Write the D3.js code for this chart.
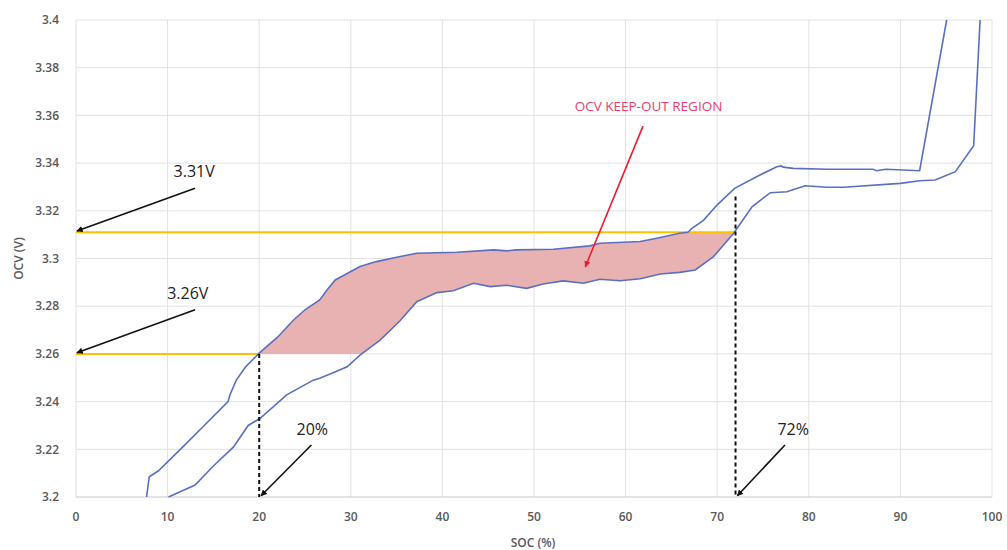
<!DOCTYPE html>
<html>
<head>
<meta charset="utf-8">
<script src="https://cdn.jsdelivr.net/npm/d3@7"></script>
<style>
  body { margin: 0; background: #fff; }
  svg { display: block; font-family: "Open Sans", sans-serif; }
  .grid line { stroke: #e2e2e2; stroke-width: 1; }
  .tick-label { fill: #595959; font-size: 12px; font-weight: 600; }
  .axis-title { fill: #595959; font-size: 12px; font-weight: 600; }
  .curve { fill: none; stroke: #5b6fc2; stroke-width: 1.6; }
  .limit { stroke: #ffc000; stroke-width: 2; }
  .marker-line { stroke: #111; stroke-width: 2; stroke-dasharray: 4 3; }
  .note { fill: #222; font-size: 16px; }
  .note-red { fill: #e8406a; font-size: 13.5px; }
</style>
</head>
<body>
<svg width="1007" height="550"></svg>
<script>
// axis ticks
let socTicks = [0, 10, 20, 30, 40, 50, 60, 70, 80, 90, 100];
let ocvTicks = [3.2, 3.22, 3.24, 3.26, 3.28, 3.3, 3.32, 3.34, 3.36, 3.38, 3.4];

// upper (left) OCV curve
let upperSoc = [7.7, 8.0, 9.0, 11.5, 14, 16.6, 16.8, 17.5, 18.5, 20.0, 22, 23.7, 25, 26.6, 27.4, 28.3, 31, 32.8, 35.4, 37.2,
    41.6, 45.6, 47, 48, 52.1, 56.1, 57.2, 61.6, 63.4, 65.9, 66.8, 67.2, 68.5, 70, 71.9, 74.3, 76.5, 77, 77.2, 78.3,
    82, 87, 87.4, 88.4, 92.1, 95.05];
let upperOcv = [3.2, 3.2085, 3.211, 3.2204, 3.230, 3.240, 3.2428, 3.249, 3.2545, 3.2603, 3.267, 3.274, 3.2785, 3.2826, 3.2868, 3.291, 3.2966, 3.2987, 3.3008, 3.3022,
    3.3026, 3.3036, 3.3032, 3.3036, 3.3039, 3.3053, 3.3064, 3.3071, 3.3085, 3.3106, 3.311, 3.3125, 3.316, 3.3225, 3.3294, 3.3343, 3.3385, 3.3388, 3.3383, 3.3378,
    3.3374, 3.3374, 3.3368, 3.3374, 3.3368, 3.4];

// lower (right) OCV curve
let lowerSoc = [10.1, 13, 15, 17.2, 18.8, 20.1, 23, 25.9, 26.6, 28, 29.6, 31, 33.2, 35.4, 37.2, 39.4, 41.2, 43.4, 45.2, 47,
    49.2, 51, 53.2, 55.4, 57.2, 59.4, 61.6, 63.8, 65.9, 67.6, 69.6, 71.8, 73.8, 75.8, 77.6, 79.6, 82, 83.8, 90, 92.1,
    93.8, 96, 98, 98.7];
let lowerOcv = [3.2, 3.205, 3.213, 3.221, 3.230, 3.233, 3.2428, 3.249, 3.2498, 3.252, 3.2546, 3.2595, 3.2658, 3.274, 3.2819, 3.2857, 3.2865, 3.2896, 3.2882, 3.2888,
    3.2875, 3.2893, 3.2906, 3.2896, 3.2913, 3.2907, 3.2915, 3.2935, 3.2942, 3.2952, 3.3008, 3.3106, 3.3217, 3.3276, 3.328, 3.3305, 3.3299, 3.3299, 3.3315, 3.3326,
    3.3329, 3.3364, 3.3473, 3.4];

// keep-out limits
let ocvLow = 3.26, ocvHigh = 3.311;
let socLow = 20, socHigh = 72;

let svg = d3.select("svg"),
    margin = {top: 20, right: 15, bottom: 53, left: 76},
    width = +svg.attr("width") - margin.left - margin.right,
    height = +svg.attr("height") - margin.top - margin.bottom;

let x = d3.scaleLinear().domain([0, 100]).range([margin.left, margin.left + width]);
let y = d3.scaleLinear().domain([3.2, 3.4]).range([margin.top + height, margin.top]);

let defs = svg.append("defs");
[["head", "#111"], ["headRed", "#ee1c2e"]].forEach(([id, col]) => {
    defs.append("marker")
        .attr("id", id)
        .attr("viewBox", "0 0 10 10")
        .attr("refX", 9).attr("refY", 5)
        .attr("markerWidth", 4).attr("markerHeight", 4)
        .attr("orient", "auto")
        .append("path").attr("d", "M0,0L10,5L0,10z").attr("fill", col);
});
defs.append("clipPath").attr("id", "zone")
    .append("rect")
    .attr("x", x(socLow)).attr("y", y(ocvHigh))
    .attr("width", x(socHigh) - x(socLow))
    .attr("height", y(ocvLow) - y(ocvHigh));

//grid
let grid = svg.append("g").attr("class", "grid");
grid.selectAll(".gx").data(socTicks).enter().append("line")
    .attr("x1", d => x(d)).attr("x2", d => x(d))
    .attr("y1", y(3.4)).attr("y2", y(3.2));
grid.selectAll(".gy").data(ocvTicks.slice(1)).enter().append("line")
    .attr("x1", x(0)).attr("x2", x(100))
    .attr("y1", d => y(d)).attr("y2", d => y(d));
svg.append("line")
    .attr("x1", x(0)).attr("x2", x(100))
    .attr("y1", y(3.2)).attr("y2", y(3.2))
    .attr("stroke", "#c8c8c8");

//tick labels
svg.selectAll(".ylab").data(ocvTicks).enter().append("text")
    .attr("class", "tick-label")
    .attr("x", x(0) - 17)
    .attr("y", d => y(d))
    .attr("dy", "0.35em")
    .attr("text-anchor", "end")
    .text(d => +d.toFixed(2));
svg.selectAll(".xlab").data(socTicks).enter().append("text")
    .attr("class", "tick-label")
    .attr("x", d => x(d))
    .attr("y", y(3.2) + 24)
    .attr("text-anchor", "middle")
    .text(d => d);

svg.append("text").attr("class", "axis-title")
    .attr("x", x(50) - 1).attr("y", 547)
    .attr("text-anchor", "middle").text("SOC (%)");
svg.append("text").attr("class", "axis-title")
    .attr("transform", "translate(23," + y(3.3) + ") rotate(-90)")
    .attr("text-anchor", "middle").text("OCV (V)");

let upper = upperSoc.map((s, i) => [s, upperOcv[i]]);
let lower = lowerSoc.map((s, i) => [s, lowerOcv[i]]);
let line = d3.line().x(d => x(d[0])).y(d => y(d[1]));

//keep-out zone between the two curves
svg.append("path")
    .attr("clip-path", "url(#zone)")
    .attr("fill", "#e8b2b2")
    .attr("d", line(upper.concat(lower.slice().reverse())) + "Z");

//limit lines
svg.append("line").attr("class", "limit")
    .attr("x1", x(0)).attr("x2", x(socHigh))
    .attr("y1", y(ocvHigh)).attr("y2", y(ocvHigh));
svg.append("line").attr("class", "limit")
    .attr("x1", x(0)).attr("x2", x(socLow))
    .attr("y1", y(ocvLow)).attr("y2", y(ocvLow));

//curves
svg.append("path").attr("class", "curve").attr("d", line(upper));
svg.append("path").attr("class", "curve").attr("d", line(lower));

//dashed SOC markers
svg.append("line").attr("class", "marker-line")
    .attr("x1", x(socLow)).attr("x2", x(socLow))
    .attr("y1", y(ocvLow)).attr("y2", y(3.2));
svg.append("line").attr("class", "marker-line")
    .attr("x1", x(socHigh)).attr("x2", x(socHigh))
    .attr("y1", y(3.326)).attr("y2", y(3.2));

//annotations
function note(label, tx, ty, from, to, cls, head, color) {
    svg.append("line")
        .attr("x1", x(from[0])).attr("y1", y(from[1]))
        .attr("x2", x(to[0])).attr("y2", y(to[1]))
        .attr("stroke", color).attr("stroke-width", 1.6)
        .attr("marker-end", "url(#" + head + ")");
    svg.append("text").attr("class", cls)
        .attr("x", x(tx)).attr("y", y(ty))
        .attr("text-anchor", "middle")
        .text(label);
}
note("3.31V", 12.9, 3.3342, [13.0, 3.3295], [0.1, 3.3115], "note", "head", "#111");
note("3.26V", 12.2, 3.2832, [13.0, 3.2785], [0.1, 3.2605], "note", "head", "#111");
note("20%", 25.8, 3.2262, [25.7, 3.2218], [20.2, 3.2005], "note", "head", "#111");
note("72%", 78.3, 3.2262, [77.4, 3.2218], [72.2, 3.2005], "note", "head", "#111");
note("OCV KEEP-OUT REGION", 62.5, 3.3618, [61.9, 3.3555], [55.6, 3.2965], "note-red", "headRed", "#ee1c2e");
</script>
</body>
</html>
